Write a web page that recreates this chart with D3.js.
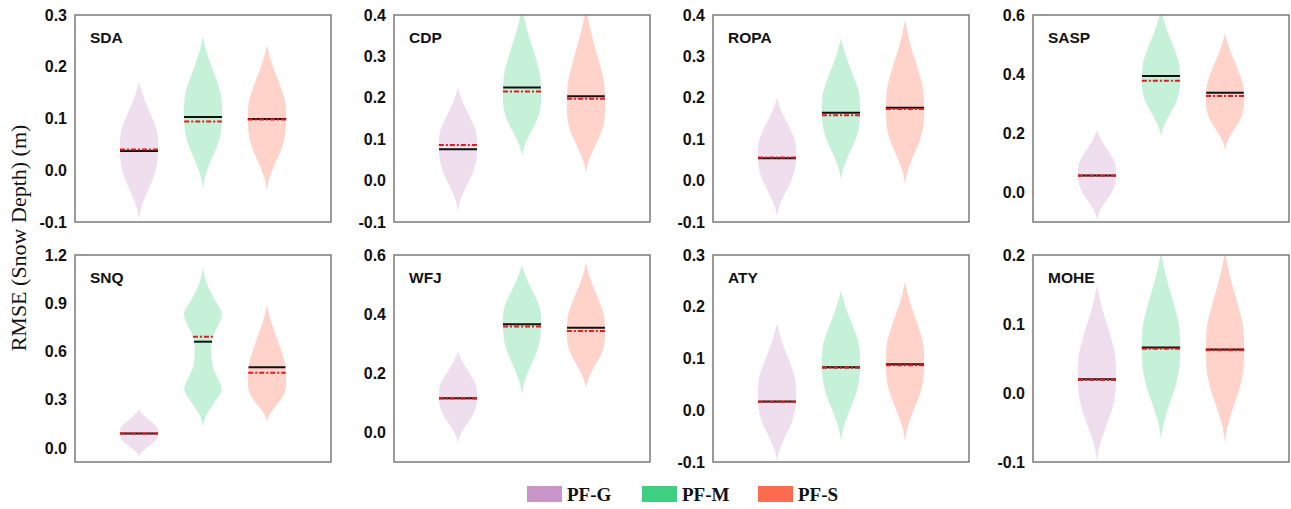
<!DOCTYPE html>
<html>
<head>
<meta charset="utf-8">
<script src="https://cdn.jsdelivr.net/npm/d3@7"></script>
<style>
  body { margin: 0; background: #fff; }
  svg { display: block; }
</style>
</head>
<body>
<div id="chart"></div>
<script>
const sites = ['SDA', 'CDP', 'ROPA', 'SASP', 'SNQ', 'WFJ', 'ATY', 'MOHE']
const methods = ['PF-G', 'PF-M', 'PF-S']
const colors = ['#c994c7', '#3ecf80', '#ff6b4f']

const yDomains = [[-0.1, 0.3], [-0.1, 0.4], [-0.1, 0.4], [-0.1, 0.6], [-0.087, 1.2], [-0.1, 0.6], [-0.1, 0.3], [-0.1, 0.2]]
const yTicks = [
    [-0.1, 0, 0.1, 0.2, 0.3],
    [-0.1, 0, 0.1, 0.2, 0.3, 0.4],
    [-0.1, 0, 0.1, 0.2, 0.3, 0.4],
    [0, 0.2, 0.4, 0.6],
    [0, 0.3, 0.6, 0.9, 1.2],
    [0, 0.2, 0.4, 0.6],
    [-0.1, 0, 0.1, 0.2, 0.3],
    [-0.1, 0, 0.1, 0.2]
]

// violin extents: bottom tip, widest point, top tip (per site, PF-G / PF-M / PF-S)
const violinLow = [
    [-0.096, -0.036, -0.040],
    [-0.075, 0.058, 0.018],
    [-0.088, 0.001, -0.010],
    [-0.093, 0.188, 0.143],
    [-0.054, 0.132, 0.163],
    [-0.037, 0.127, 0.149],
    [-0.100, -0.061, -0.061],
    [-0.100, -0.068, -0.073]
]
const violinMode = [
    [0.045, 0.110, 0.100],
    [0.085, 0.205, 0.180],
    [0.065, 0.170, 0.170],
    [0.065, 0.380, 0.313],
    [0.095, 0.600, 0.412],
    [0.125, 0.374, 0.340],
    [0.029, 0.094, 0.094],
    [0.026, 0.065, 0.063]
]
const violinHigh = [
    [0.171, 0.258, 0.242],
    [0.224, 0.420, 0.420],
    [0.200, 0.344, 0.388],
    [0.211, 0.620, 0.538],
    [0.240, 1.127, 0.889],
    [0.273, 0.566, 0.572],
    [0.168, 0.232, 0.248],
    [0.157, 0.205, 0.205]
]
const medians = [
    [0.037, 0.103, 0.099],
    [0.076, 0.225, 0.204],
    [0.054, 0.164, 0.176],
    [0.057, 0.394, 0.337],
    [0.090, 0.661, 0.502],
    [0.116, 0.366, 0.354],
    [0.017, 0.083, 0.089],
    [0.020, 0.066, 0.063]
]
const means = [
    [0.040, 0.094, 0.098],
    [0.086, 0.215, 0.198],
    [0.056, 0.158, 0.173],
    [0.056, 0.378, 0.326],
    [0.090, 0.692, 0.468],
    [0.115, 0.358, 0.343],
    [0.016, 0.082, 0.087],
    [0.019, 0.064, 0.062]
]

// shape of a violin: [fraction of span, relative half width]
const profileLower = [[0, 0], [0.15, 0.1], [0.35, 0.38], [0.6, 0.78], [0.8, 0.96], [1, 1]]
const profileUpper = [[0.2, 0.96], [0.45, 0.68], [0.7, 0.32], [0.86, 0.13], [1, 0]]
// SNQ PF-M is bimodal: [value, relative half width]
const snqBimodal = [[0.132, 0], [0.2, 0.15], [0.28, 0.58], [0.37, 0.98], [0.45, 0.7], [0.52, 0.48],
    [0.6, 0.43], [0.68, 0.48], [0.75, 0.74], [0.83, 0.99], [0.92, 0.62], [1.0, 0.28], [1.06, 0.1], [1.127, 0]]

const W = 1291, H = 509
const panelW = 256, panelH = 207
const lefts = [75, 394, 713, 1033]
const tops = [15, 255]

const svg = d3.select('#chart').append('svg')
    .attr('width', W)
    .attr('height', H)

const buildProfile = (s, m) => {
    if (s === 4 && m === 1) return snqBimodal
    const lo = violinLow[s][m], md = violinMode[s][m], hi = violinHigh[s][m]
    const pts = profileLower.map(([t, w]) => [lo + (md - lo) * t, w])
    profileUpper.forEach(([t, w]) => pts.push([md + (hi - md) * t, w]))
    return pts
}

sites.forEach((site, s) => {
    const col = s % 4, row = Math.floor(s / 4)
    const g = svg.append('g')
        .attr('transform', 'translate(' + lefts[col] + ',' + tops[row] + ')')

    const x = d3.scaleLinear().domain([0, 4]).range([0, panelW])
    const y = d3.scaleLinear().domain(yDomains[s]).range([panelH, 0])

    g.append('clipPath').attr('id', 'clip' + s)
        .append('rect').attr('width', panelW).attr('height', panelH)

    const plot = g.append('g').attr('clip-path', 'url(#clip' + s + ')')

    methods.forEach((mname, m) => {
        const cx = m + 1
        const pts = buildProfile(s, m).slice().sort((a, b) => b[0] - a[0])
        const area = d3.area()
            .y(d => y(d[0]))
            .x0(d => x(cx - 0.3 * d[1]))
            .x1(d => x(cx + 0.3 * d[1]))
            .curve(d3.curveMonotoneY)
        plot.append('path')
            .datum(pts)
            .attr('d', area)
            .attr('fill', colors[m])
            .attr('fill-opacity', 0.3)

        const asc = pts.slice().reverse()
        const widthAt = d3.scaleLinear().domain(asc.map(d => d[0])).range(asc.map(d => d[1])).clamp(true)

        const med = medians[s][m], mn = means[s][m]
        plot.append('line')
            .attr('x1', x(cx - 0.3 * widthAt(med))).attr('x2', x(cx + 0.3 * widthAt(med)))
            .attr('y1', y(med)).attr('y2', y(med))
            .attr('stroke', '#111').attr('stroke-width', 2)
        plot.append('line')
            .attr('x1', x(cx - 0.3 * widthAt(mn))).attr('x2', x(cx + 0.3 * widthAt(mn)))
            .attr('y1', y(mn)).attr('y2', y(mn))
            .attr('stroke', '#e41a1c').attr('stroke-width', 2)
            .attr('stroke-dasharray', '5,2,2,2')
    })

    g.append('rect')
        .attr('width', panelW).attr('height', panelH)
        .attr('fill', 'none')
        .attr('stroke', '#7a7a7a').attr('stroke-width', 1.5)

    const axis = g.append('g')
        .call(d3.axisLeft(y).tickValues(yTicks[s]).tickSize(0).tickPadding(8).tickFormat(d => d.toFixed(1)))
    axis.select('.domain').remove()
    axis.selectAll('text')
        .style('font-family', '"Liberation Sans", Arial, sans-serif')
        .style('font-size', '16px')
        .style('font-weight', 'bold')
        .attr('fill', '#111')

    g.append('text')
        .attr('x', 15).attr('y', 28)
        .text(site)
        .style('font-family', '"Liberation Sans", Arial, sans-serif')
        .style('font-size', '15.5px')
        .style('font-weight', 'bold')
        .attr('fill', '#111')
})

svg.append('text')
    .attr('transform', 'translate(26,238) rotate(-90)')
    .attr('text-anchor', 'middle')
    .text('RMSE (Snow Depth) (m)')
    .style('font-family', '"Liberation Serif", "Times New Roman", serif')
    .style('font-size', '22px')
    .attr('fill', '#111')

const legendX = [527, 642, 758]
const legend = svg.append('g')
methods.forEach((mname, m) => {
    legend.append('rect')
        .attr('x', legendX[m]).attr('y', 486)
        .attr('width', 35).attr('height', 16)
        .attr('fill', colors[m])
    legend.append('text')
        .attr('x', legendX[m] + 40).attr('y', 501)
        .text(mname)
        .style('font-family', '"Liberation Serif", "Times New Roman", serif')
        .style('font-size', '19px')
        .style('font-weight', 'bold')
        .attr('fill', '#111')
})
</script>
</body>
</html>
